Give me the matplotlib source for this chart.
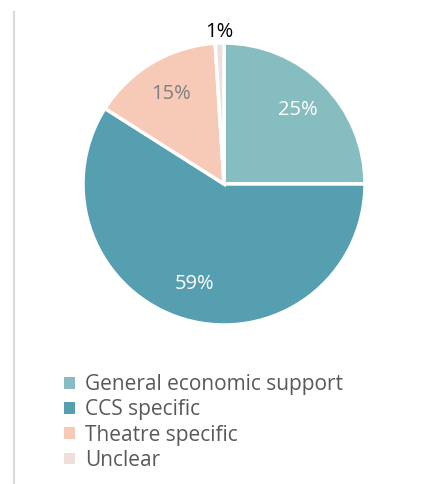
import matplotlib
matplotlib.use("Agg")
import matplotlib.pyplot as plt
from matplotlib.lines import Line2D
from matplotlib.patches import Patch

categories = ["General economic support", "CCS specific", "Theatre specific", "Unclear"]
shares = [25, 59, 15, 1]
colors = ["#86BDC0", "#559FB1", "#F7CAB8", "#EFDFDC"]
label_colors = ["white", "white", "#7F7F7F", "black"]

plt.rcParams["font.family"] = ["Open Sans", "DejaVu Sans"]

fig = plt.figure(figsize=(4.43, 4.84), dpi=100)
ax = fig.add_axes([(224 - 141) / 443, 1 - (184 + 141) / 484, 282 / 443, 282 / 484])

wedges, texts, autotexts = ax.pie(
    shares, colors=colors, startangle=90, counterclock=False,
    autopct=lambda p: f"{round(p)}%", pctdistance=0.74,
    wedgeprops=dict(edgecolor="white", linewidth=2.5),
    textprops=dict(fontsize=14.5),
)
for t, c in zip(autotexts, label_colors):
    t.set_color(c)
# the thin slice gets its label outside the pie
x, y = autotexts[3].get_position()
autotexts[3].set_position((x / 0.74 * 1.08, y / 0.74 * 1.08))
ax.set_xlim(-1, 1)
ax.set_ylim(-1, 1)
ax.set_aspect("equal")
ax.axis("off")

handles = [Patch(facecolor=c, edgecolor="none") for c in colors]
fig.legend(handles, categories, loc="upper left", bbox_to_anchor=(56 / 443, 1 - 366 / 484),
           frameon=False, fontsize=15, handlelength=0.5, handleheight=0.5,
           handletextpad=0.5, labelspacing=0.2, borderaxespad=0, labelcolor="#595959")

fig.add_artist(Line2D([14 / 443, 14 / 443], [0, 1 - 12 / 484], color="#D9D9D9", linewidth=1.5))

fig.savefig("out.png", dpi=100)
